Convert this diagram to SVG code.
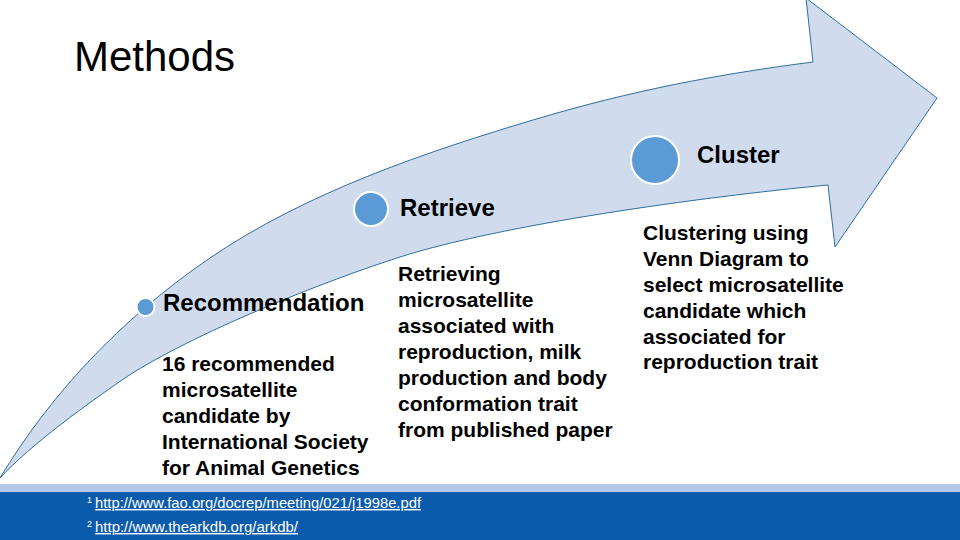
<svg xmlns="http://www.w3.org/2000/svg" width="960" height="540" viewBox="0 0 960 540">
<style>
.title{font-family:"Liberation Sans",Arial,sans-serif;font-size:42px;fill:#000}
.head{font-family:"Liberation Sans",Arial,sans-serif;font-size:24px;font-weight:bold;fill:#000}
.body{font-family:"Liberation Sans",Arial,sans-serif;font-size:21px;font-weight:bold;fill:#000}
.foot{font-family:"Liberation Sans",Arial,sans-serif;font-size:14px;fill:#fff}
.sup{font-family:"Liberation Sans",Arial,sans-serif;font-size:9px;fill:#fff}
.dot{fill:#5B9BD5;stroke:#fff;stroke-width:2}
</style>
<rect x="0" y="0" width="960" height="540" fill="#fff"/>
<text class="title" x="74" y="71">Methods</text>
<g id="arrow">
<path d="M 0 478 C 50 395, 120 320, 207 260 C 307 191, 433 150, 533 120 C 633 90, 720 74, 813 62 L 806 -2 L 937 98 L 835 247 L 828 185 C 700 197, 500 225, 400 257 C 310 286, 182 339, 122 380 C 90 402, 30 445, 0 478 Z" fill="#D0DCEE" stroke="#2F6E9E" stroke-width="1"/>
</g>
<g id="recommendation">
<circle class="dot" cx="145.5" cy="307" r="9"/>
<text class="head" x="163" y="311">Recommendation</text>
<text class="body"><tspan x="162" y="371">16 recommended</tspan><tspan x="162" y="397">microsatellite</tspan><tspan x="162" y="423">candidate by</tspan><tspan x="162" y="449">International Society</tspan><tspan x="162" y="475">for Animal Genetics</tspan></text>
</g>
<g id="retrieve">
<circle class="dot" cx="371" cy="209" r="17"/>
<text class="head" x="400" y="216">Retrieve</text>
<text class="body"><tspan x="398" y="281">Retrieving</tspan><tspan x="398" y="307">microsatellite</tspan><tspan x="398" y="333">associated with</tspan><tspan x="398" y="359">reproduction, milk</tspan><tspan x="398" y="385">production and body</tspan><tspan x="398" y="411">conformation trait</tspan><tspan x="398" y="437">from published paper</tspan></text>
</g>
<g id="cluster">
<circle class="dot" cx="655" cy="160" r="24"/>
<text class="head" x="697" y="163">Cluster</text>
<text class="body"><tspan x="643" y="240">Clustering using</tspan><tspan x="643" y="266">Venn Diagram to</tspan><tspan x="643" y="292">select microsatellite</tspan><tspan x="643" y="318">candidate which</tspan><tspan x="643" y="344">associated for</tspan><tspan x="643" y="369">reproduction trait</tspan></text>
</g>
<g id="connectors"></g>
<g id="footer">
<rect x="0" y="484" width="960" height="8" fill="#B4C7E7"/>
<rect x="0" y="492" width="960" height="48" fill="#0B5BAD"/>
<text class="sup" x="87" y="503">1</text>
<text class="foot" x="95" y="508" text-decoration="underline" textLength="326" lengthAdjust="spacingAndGlyphs">http://www.fao.org/docrep/meeting/021/j1998e.pdf</text>
<text class="sup" x="87" y="527">2</text>
<text class="foot" x="95" y="532" text-decoration="underline" textLength="203" lengthAdjust="spacingAndGlyphs">http://www.thearkdb.org/arkdb/</text>
</g>
</svg>
